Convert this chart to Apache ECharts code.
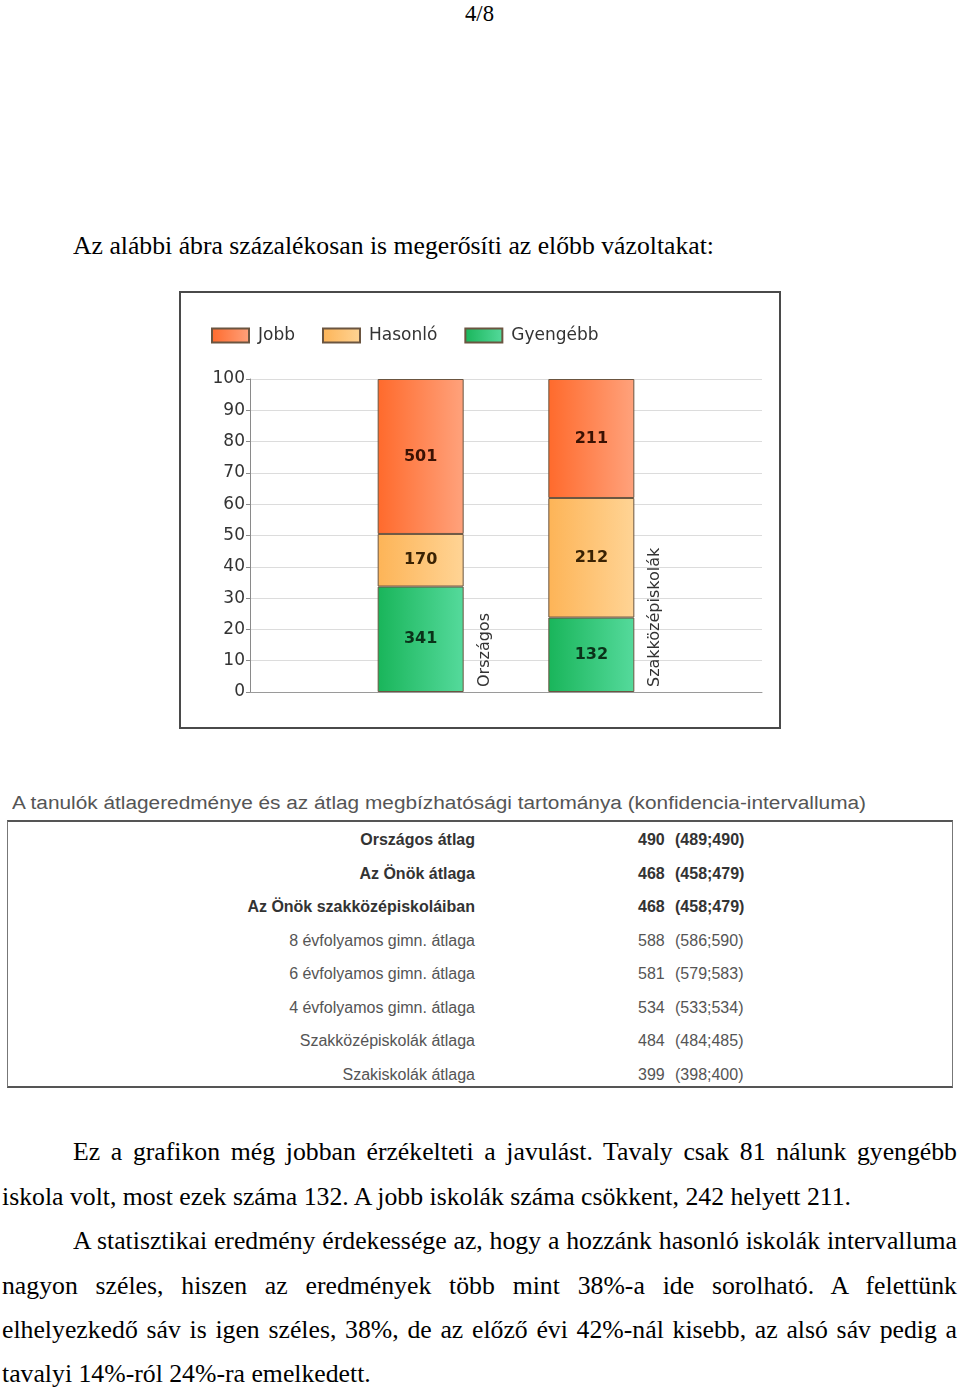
<!DOCTYPE html>
<html>
<head>
<meta charset="utf-8">
<script src="https://cdn.jsdelivr.net/npm/echarts@6/dist/echarts.min.js"></script>
<style>
  html, body { margin: 0; padding: 0; background: #fff; }
  body { width: 960px; height: 1390px; position: relative; overflow: hidden; }
  .serif { font-family: "Liberation Serif", "Times New Roman", serif; color: #000; position: absolute; white-space: nowrap; font-size: 26px; line-height: 30px; }
  .sans { font-family: "Liberation Sans", Arial, sans-serif; position: absolute; white-space: nowrap; }
  .just { text-align: justify; text-align-last: justify; transform-origin: 0 50%; }
  .fit { transform-origin: 0 50%; display: inline-block; }
  #box { position: absolute; left: 179px; top: 291px; width: 602px; height: 438px; box-sizing: border-box; border: 2px solid #4a4a4a; }
  #chart { position: absolute; left: 181px; top: 293px; width: 598px; height: 434px; }
  #tbl { position: absolute; left: 7px; top: 820px; width: 946px; height: 268px; box-sizing: border-box; border: 1px solid #777; border-top: 2px solid #555; border-bottom: 2px solid #555; }
  .row { position: absolute; font-family: "Liberation Sans", Arial, sans-serif; font-size: 16px; line-height: 20px; color: #555; white-space: nowrap; }
  .b { font-weight: bold; color: #333; }
</style>
</head>
<body>
<div class="serif fit" id="pg" style="left:465px;top:1px;font-size:24px;line-height:24px;">4/8</div>
<div class="serif fit" id="intro" style="left:73px;top:231px;">Az alábbi ábra százalékosan is megerősíti az előbb vázoltakat:</div>

<div id="box"></div>
<div id="chart"></div>

<div class="sans fit" id="ttl" style="left:12px;top:792px;font-size:18px;line-height:22px;color:#555;">A tanulók átlageredménye és az átlag megbízhatósági tartománya (konfidencia-intervalluma)</div>
<div id="tbl"></div>

<div id="para"></div>

<script>
// ---- Data ----
const categories = ['', 'Országos', 'Szakközépiskolák', ''];
const seriesNames = ['Jobb', 'Hasonló', 'Gyengébb'];
const jobb = [null, 501, 211, null];
const hasonlo = [null, 170, 212, null];
const gyengebb = [null, 341, 132, null];
const yTicks = [0, 10, 20, 30, 40, 50, 60, 70, 80, 90, 100];

const tableLabels = ['Országos átlag', 'Az Önök átlaga', 'Az Önök szakközépiskoláiban', '8 évfolyamos gimn. átlaga', '6 évfolyamos gimn. átlaga', '4 évfolyamos gimn. átlaga', 'Szakközépiskolák átlaga', 'Szakiskolák átlaga'];
const tableMeans = [490, 468, 468, 588, 581, 534, 484, 399];
const tableLow = [489, 458, 458, 586, 579, 533, 484, 398];
const tableHigh = [490, 479, 479, 590, 583, 534, 485, 400];
const tableBold = [true, true, true, false, false, false, false, false];

const paraLines = [
  'Ez a grafikon még jobban érzékelteti a javulást. Tavaly csak 81 nálunk gyengébb',
  'iskola volt, most ezek száma 132. A jobb iskolák száma csökkent, 242 helyett 211.',
  'A statisztikai eredmény érdekessége az, hogy a hozzánk hasonló iskolák intervalluma',
  'nagyon széles, hiszen az eredmények több mint 38%-a ide sorolható. A felettünk',
  'elhelyezkedő sáv is igen széles, 38%, de az előző évi 42%-nál kisebb, az alsó sáv pedig a',
  'tavalyi 14%-ról 24%-ra emelkedett.'
];

// ---- Text layout helpers ----
function fitTo(el, w) {
  const nat = el.getBoundingClientRect().width;
  el.style.transform = 'scaleX(' + (w / nat) + ')';
}
fitTo(document.getElementById('pg'), 29);
fitTo(document.getElementById('intro'), 641);
fitTo(document.getElementById('ttl'), 854);

(function () {
  const para = document.getElementById('para');
  const probe = document.createElement('span');
  probe.className = 'serif';
  probe.style.visibility = 'hidden';
  probe.textContent = paraLines[1];
  document.body.appendChild(probe);
  const s = 849 / probe.getBoundingClientRect().width;
  probe.remove();
  const spec = [
    { x: 73, w: 884, j: true }, { x: 2, w: 0, j: false }, { x: 73, w: 884, j: true },
    { x: 2, w: 955, j: true }, { x: 2, w: 955, j: true }, { x: 2, w: 0, j: false }
  ];
  const centers = [1152, 1197, 1241, 1286, 1330, 1374];
  paraLines.forEach((t, i) => {
    const d = document.createElement('div');
    d.className = 'serif' + (spec[i].j ? ' just' : ' fit');
    d.textContent = t;
    d.style.left = spec[i].x + 'px';
    d.style.top = (centers[i] - 15) + 'px';
    if (spec[i].j) d.style.width = (spec[i].w / s) + 'px';
    d.style.transform = 'scaleX(' + s + ')';
    d.style.transformOrigin = '0 50%';
    para.appendChild(d);
  });
})();

(function () {
  const tbl = document.getElementById('tbl');
  tableLabels.forEach((lab, i) => {
    const cy = 838 + i * 33.5 - 820;
    const cls = 'row' + (tableBold[i] ? ' b' : '');
    const a = document.createElement('div');
    a.className = cls;
    a.style.right = (953 - 475 - 1) + 'px';
    a.style.top = (cy - 10) + 'px';
    a.textContent = lab;
    tbl.appendChild(a);
    const v = document.createElement('div');
    v.className = cls;
    v.style.left = (638 - 8) + 'px';
    v.style.top = (cy - 10) + 'px';
    v.textContent = tableMeans[i];
    tbl.appendChild(v);
    const c = document.createElement('div');
    c.className = cls;
    c.style.left = (675 - 8) + 'px';
    c.style.top = (cy - 10) + 'px';
    c.textContent = '(' + tableLow[i] + ';' + tableHigh[i] + ')';
    tbl.appendChild(c);
  });
})();

// ---- Chart ----
const totals = categories.map((_, i) => (jobb[i] || 0) + (hasonlo[i] || 0) + (gyengebb[i] || 0));
function pct(arr) {
  return arr.map((v, i) => v == null ? '-' : { value: v / totals[i] * 100, count: v });
}
function grad(c1, c2) {
  return new echarts.graphic.LinearGradient(0, 0, 1, 0, [{ offset: 0, color: c1 }, { offset: 1, color: c2 }]);
}
const FONT = '"DejaVu Sans", Verdana, sans-serif';
const colors = {
  'Jobb': grad('#ff6a2c', '#ffa27c'),
  'Hasonló': grad('#fdb457', '#ffd495'),
  'Gyengébb': grad('#19b55a', '#55da9c')
};
const labelColors = { 'Jobb': '#3a1203', 'Hasonló': '#3a2203', 'Gyengébb': '#0a3219' };
const order = [['Gyengébb', gyengebb], ['Hasonló', hasonlo], ['Jobb', jobb]];

const chart = echarts.init(document.getElementById('chart'), null, { renderer: 'canvas' });
chart.setOption({
  animation: false,
  backgroundColor: '#fff',
  textStyle: { fontFamily: FONT },
  legend: {
    data: seriesNames,
    left: 25, top: 29,
    itemWidth: 37, itemHeight: 14, itemGap: 27,
    icon: 'rect',
    textStyle: { fontFamily: FONT, fontSize: 17, color: '#333', padding: [0, 0, 0, 4] }
  },
  grid: { left: 69, right: 17, top: 86, bottom: 35, containLabel: false },
  xAxis: {
    type: 'category',
    data: categories,
    boundaryGap: false,
    axisLine: { show: true, lineStyle: { color: '#9a9a9a', width: 1 } },
    axisTick: { show: false },
    axisLabel: { show: false },
    splitLine: { show: false }
  },
  yAxis: {
    type: 'value', min: 0, max: 100, interval: 10,
    axisLine: { show: true, lineStyle: { color: '#8a8a8a', width: 1 } },
    axisTick: { show: true, inside: false, length: 4, lineStyle: { color: '#8a8a8a' } },
    axisLabel: {
      fontFamily: FONT, fontSize: 17, color: '#333', margin: 5,
      formatter: v => yTicks.includes(v) ? String(v) : ''
    },
    splitLine: { show: true, lineStyle: { color: '#dcdcdc', width: 1 } }
  },
  series: order.map(([name, arr]) => ({
    name: name,
    type: 'bar',
    stack: 'total',
    barWidth: 86,
    data: pct(arr),
    itemStyle: { color: colors[name], borderColor: '#6b5540', borderWidth: 1 },
    label: {
      show: true, position: 'inside',
      fontFamily: FONT, fontSize: 16, fontWeight: 'bold', color: labelColors[name],
      formatter: p => p.data && p.data.count != null ? String(p.data.count) : ''
    }
  }))
});

// Category names: vertical labels next to each bar, anchored to the axis scale
const y0 = chart.convertToPixel({ yAxisIndex: 0 }, 0);
const catTexts = [];
categories.forEach((c) => {
  if (!c) return;
  const x = chart.convertToPixel({ xAxisIndex: 0 }, c);
  catTexts.push({
    type: 'text',
    x: x + 64, y: y0 - 5,
    rotation: Math.PI / 2,
    style: { text: c, fontFamily: FONT, fontSize: 16, fill: '#333', align: 'left', verticalAlign: 'middle' }
  });
});
chart.setOption({ graphic: catTexts });
</script>
</body>
</html>
